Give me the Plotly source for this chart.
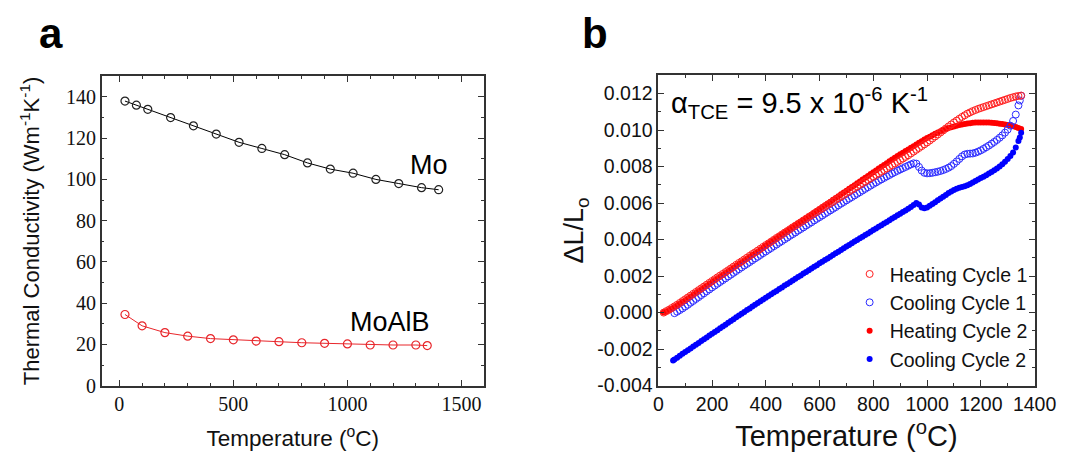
import plotly.graph_objects as go

# ---- panel a: thermal conductivity ----
mo_temp = [25, 75, 125, 225, 325, 425, 525, 625, 725, 825, 925, 1025, 1125, 1225, 1325, 1400]
mo_k = [138, 136, 134, 130, 126, 122, 118, 115, 112, 108, 105, 103, 100, 98, 96, 95]

moalb_temp = [25, 100, 200, 300, 400, 500, 600, 700, 800, 900, 1000, 1100, 1200, 1300, 1350]
moalb_k = [34.5, 29.0, 25.7, 24.0, 22.8, 22.2, 21.6, 21.3, 20.8, 20.5, 20.2, 19.7, 19.7, 19.7, 19.4]

# ---- panel b: dilatometry dL/Lo ----
h1_temp = [20, 30, 40, 50, 60, 70, 80, 90, 100, 110, 120, 130, 140, 150, 160, 170, 180, 190, 200,
           210, 220, 230, 240, 250, 260, 270, 280, 290, 300, 310, 320, 330, 340, 350, 360, 370, 380,
           390, 400, 410, 420, 430, 440, 450, 460, 470, 480, 490, 500, 510, 520, 530, 540, 550, 560,
           570, 580, 590, 600, 610, 620, 630, 640, 650, 660, 670, 680, 690, 700, 710, 720, 730, 740,
           750, 760, 770, 780, 790, 800, 810, 820, 830, 840, 850, 860, 870, 880, 890, 900, 910, 920,
           930, 940, 950, 960, 970, 980, 990, 1000, 1010, 1020, 1030, 1040, 1050, 1060, 1070, 1080,
           1090, 1100, 1110, 1120, 1130, 1140, 1150, 1160, 1170, 1180, 1190, 1200, 1210, 1220, 1230,
           1240, 1250, 1260, 1270, 1280, 1290, 1300, 1310, 1320, 1330, 1340, 1350]
h1_dl = [0.00000, 0.00008, 0.00016, 0.00025, 0.00034, 0.00043, 0.00053, 0.00063, 0.00073, 0.00083,
         0.00093, 0.00103, 0.00113, 0.00123, 0.00133, 0.00143, 0.00153, 0.00163, 0.00173, 0.00183,
         0.00193, 0.00203, 0.00212, 0.00222, 0.00232, 0.00242, 0.00252, 0.00262, 0.00272, 0.00281,
         0.00291, 0.00301, 0.00311, 0.00321, 0.00330, 0.00340, 0.00350, 0.00360, 0.00370, 0.00379,
         0.00389, 0.00399, 0.00409, 0.00418, 0.00428, 0.00438, 0.00447, 0.00457, 0.00467, 0.00476,
         0.00486, 0.00495, 0.00505, 0.00514, 0.00524, 0.00533, 0.00543, 0.00552, 0.00562, 0.00571,
         0.00580, 0.00590, 0.00599, 0.00608, 0.00618, 0.00627, 0.00636, 0.00645, 0.00655, 0.00664,
         0.00673, 0.00682, 0.00691, 0.00700, 0.00709, 0.00718, 0.00727, 0.00736, 0.00745, 0.00754,
         0.00763, 0.00772, 0.00781, 0.00790, 0.00799, 0.00808, 0.00817, 0.00826, 0.00835, 0.00844,
         0.00853, 0.00862, 0.00872, 0.00882, 0.00892, 0.00902, 0.00912, 0.00922, 0.00932, 0.00943,
         0.00954, 0.00965, 0.00976, 0.00987, 0.00998, 0.01009, 0.01020, 0.01031, 0.01042, 0.01052,
         0.01062, 0.01072, 0.01081, 0.01090, 0.01097, 0.01104, 0.01110, 0.01116, 0.01121, 0.01126,
         0.01131, 0.01136, 0.01141, 0.01146, 0.01151, 0.01156, 0.01161, 0.01166, 0.01171, 0.01176,
         0.01180, 0.01184, 0.01187, 0.01189]

c1_temp = [60, 70, 80, 90, 100, 110, 120, 130, 140, 150, 160, 170, 180, 190, 200, 210, 220, 230, 240,
           250, 260, 270, 280, 290, 300, 310, 320, 330, 340, 350, 360, 370, 380, 390, 400, 410, 420,
           430, 440, 450, 460, 470, 480, 490, 500, 510, 520, 530, 540, 550, 560, 570, 580, 590, 600,
           610, 620, 630, 640, 650, 660, 670, 680, 690, 700, 710, 720, 730, 740, 750, 760, 770, 780,
           790, 800, 810, 820, 830, 840, 850, 860, 870, 880, 890, 900, 910, 920, 930, 940, 950, 960,
           970, 980, 990, 1000, 1010, 1020, 1030, 1040, 1050, 1060, 1070, 1080, 1090, 1100, 1110, 1120,
           1130, 1140, 1150, 1160, 1170, 1180, 1190, 1200, 1210, 1220, 1230, 1240, 1250, 1260, 1270,
           1280, 1290, 1300, 1310, 1320, 1330, 1340, 1345, 1350]
c1_dl = [-0.00003, 0.00005, 0.00014, 0.00023, 0.00033, 0.00043, 0.00054, 0.00064, 0.00075, 0.00085,
         0.00096, 0.00106, 0.00117, 0.00127, 0.00138, 0.00148, 0.00158, 0.00168, 0.00178, 0.00188,
         0.00198, 0.00208, 0.00218, 0.00228, 0.00238, 0.00248, 0.00258, 0.00267, 0.00277, 0.00287,
         0.00297, 0.00306, 0.00316, 0.00326, 0.00335, 0.00345, 0.00354, 0.00364, 0.00373, 0.00383,
         0.00392, 0.00402, 0.00411, 0.00421, 0.00430, 0.00439, 0.00449, 0.00458, 0.00467, 0.00477,
         0.00486, 0.00495, 0.00505, 0.00514, 0.00523, 0.00532, 0.00542, 0.00551, 0.00560, 0.00569,
         0.00578, 0.00588, 0.00597, 0.00606, 0.00615, 0.00624, 0.00633, 0.00642, 0.00651, 0.00660,
         0.00669, 0.00678, 0.00687, 0.00696, 0.00705, 0.00713, 0.00722, 0.00730, 0.00738, 0.00746,
         0.00754, 0.00762, 0.00770, 0.00777, 0.00784, 0.00791, 0.00798, 0.00805, 0.00812, 0.00818,
         0.00816, 0.00798, 0.00778, 0.00766, 0.00763, 0.00764, 0.00766, 0.00769, 0.00772, 0.00776,
         0.00781, 0.00787, 0.00794, 0.00803, 0.00815, 0.00828, 0.00842, 0.00856, 0.00866, 0.00870,
         0.00871, 0.00872, 0.00876, 0.00882, 0.00889, 0.00897, 0.00906, 0.00915, 0.00925, 0.00935,
         0.00946, 0.00958, 0.00971, 0.00986, 0.01003, 0.01024, 0.01050, 0.01085, 0.01135, 0.01162,
         0.01188]

h2_temp = h1_temp
h2_dl = [0.00000, 0.00006, 0.00013, 0.00021, 0.00030, 0.00039, 0.00048, 0.00058, 0.00067, 0.00077,
         0.00087, 0.00097, 0.00107, 0.00117, 0.00127, 0.00137, 0.00147, 0.00157, 0.00167, 0.00177,
         0.00187, 0.00197, 0.00206, 0.00216, 0.00226, 0.00236, 0.00246, 0.00256, 0.00266, 0.00275,
         0.00285, 0.00295, 0.00305, 0.00315, 0.00324, 0.00334, 0.00344, 0.00354, 0.00368, 0.00378,
         0.00388, 0.00398, 0.00408, 0.00418, 0.00428, 0.00438, 0.00448, 0.00458, 0.00468, 0.00478,
         0.00488, 0.00498, 0.00508, 0.00518, 0.00528, 0.00538, 0.00548, 0.00558, 0.00568, 0.00578,
         0.00588, 0.00598, 0.00608, 0.00618, 0.00628, 0.00638, 0.00648, 0.00658, 0.00668, 0.00678,
         0.00688, 0.00698, 0.00709, 0.00719, 0.00729, 0.00739, 0.00749, 0.00759, 0.00769, 0.00779,
         0.00789, 0.00799, 0.00809, 0.00819, 0.00829, 0.00839, 0.00849, 0.00858, 0.00867, 0.00876,
         0.00885, 0.00894, 0.00903, 0.00912, 0.00921, 0.00930, 0.00939, 0.00948, 0.00956, 0.00964,
         0.00972, 0.00980, 0.00987, 0.00994, 0.01000, 0.01006, 0.01011, 0.01016, 0.01020, 0.01024,
         0.01028, 0.01031, 0.01034, 0.01036, 0.01038, 0.01040, 0.01041, 0.01042, 0.01042, 0.01042,
         0.01042, 0.01041, 0.01040, 0.01039, 0.01037, 0.01035, 0.01033, 0.01031, 0.01028, 0.01025,
         0.01021, 0.01017, 0.01012, 0.01006]

c2_temp = [55, 60, 70, 80, 90, 100, 110, 120, 130, 140, 150, 160, 170, 180, 190, 200, 210, 220, 230,
           240, 250, 260, 270, 280, 290, 300, 310, 320, 330, 340, 350, 360, 370, 380, 390, 400, 410,
           420, 430, 440, 450, 460, 470, 480, 490, 500, 510, 520, 530, 540, 550, 560, 570, 580, 590,
           600, 610, 620, 630, 640, 650, 660, 670, 680, 690, 700, 710, 720, 730, 740, 750, 760, 770,
           780, 790, 800, 810, 820, 830, 840, 850, 860, 870, 880, 890, 900, 910, 920, 930, 940, 950,
           960, 970, 980, 990, 1000, 1010, 1020, 1030, 1040, 1050, 1060, 1070, 1080, 1090, 1100, 1110,
           1120, 1130, 1140, 1150, 1160, 1170, 1180, 1190, 1200, 1210, 1220, 1230, 1240, 1250, 1260,
           1270, 1280, 1290, 1300, 1310, 1320, 1330, 1340, 1345, 1350]
c2_dl = [-0.00262, -0.00257, -0.00247, -0.00237, -0.00226, -0.00216, -0.00206, -0.00196, -0.00186,
         -0.00176, -0.00166, -0.00156, -0.00146, -0.00136, -0.00126, -0.00116, -0.00106, -0.00096,
         -0.00086, -0.00076, -0.00066, -0.00056, -0.00046, -0.00036, -0.00026, -0.00016, -0.00006,
         0.00004, 0.00014, 0.00023, 0.00033, 0.00043, 0.00052, 0.00062, 0.00072, 0.00081, 0.00091,
         0.00100, 0.00110, 0.00119, 0.00129, 0.00138, 0.00148, 0.00157, 0.00167, 0.00176, 0.00185,
         0.00195, 0.00204, 0.00214, 0.00223, 0.00232, 0.00242, 0.00251, 0.00260, 0.00270, 0.00279,
         0.00288, 0.00297, 0.00306, 0.00316, 0.00325, 0.00334, 0.00343, 0.00352, 0.00362, 0.00371,
         0.00380, 0.00389, 0.00398, 0.00407, 0.00416, 0.00425, 0.00434, 0.00443, 0.00452, 0.00461,
         0.00470, 0.00479, 0.00488, 0.00497, 0.00506, 0.00515, 0.00524, 0.00533, 0.00542, 0.00551,
         0.00560, 0.00569, 0.00578, 0.00590, 0.00600, 0.00592, 0.00576, 0.00572, 0.00576, 0.00585,
         0.00595, 0.00605, 0.00615, 0.00625, 0.00635, 0.00645, 0.00655, 0.00664, 0.00672, 0.00679,
         0.00684, 0.00688, 0.00692, 0.00698, 0.00705, 0.00713, 0.00721, 0.00729, 0.00737, 0.00745,
         0.00753, 0.00762, 0.00771, 0.00780, 0.00790, 0.00801, 0.00813, 0.00826, 0.00841, 0.00858,
         0.00877, 0.00905, 0.00940, 0.00960, 0.00985]

a_xticks = [0, 500, 1000, 1500]
a_yticks = [0, 20, 40, 60, 80, 100, 120, 140]
b_xticks = [0, 200, 400, 600, 800, 1000, 1200, 1400]
b_yticks = [-0.004, -0.002, 0.000, 0.002, 0.004, 0.006, 0.008, 0.010, 0.012]
b_yticktext = ["-0.004", "-0.002", "0.000", "0.002", "0.004", "0.006", "0.008", "0.010", "0.012"]

W, H = 1071, 454
SANS = "Liberation Sans, Arial, sans-serif"
SERIF = "Liberation Serif, DejaVu Serif, serif"

fig = go.Figure()

fig.add_trace(go.Scatter(
    x=mo_temp, y=mo_k, mode="lines+markers", xaxis="x", yaxis="y", showlegend=False,
    line=dict(color="black", width=1),
    marker=dict(symbol="circle-open", size=8, color="#222", line=dict(width=1.2)),
))
fig.add_trace(go.Scatter(
    x=moalb_temp, y=moalb_k, mode="lines+markers", xaxis="x", yaxis="y", showlegend=False,
    line=dict(color="#e8262b", width=1),
    marker=dict(symbol="circle-open", size=8, color="#e8262b", line=dict(width=1.2)),
))

fig.add_trace(go.Scatter(
    x=h2_temp, y=h2_dl, mode="markers", xaxis="x2", yaxis="y2", name="Heating Cycle 2",
    marker=dict(symbol="circle", size=6, color="#ff0000"), legendrank=3,
))
fig.add_trace(go.Scatter(
    x=c2_temp, y=c2_dl, mode="markers", xaxis="x2", yaxis="y2", name="Cooling Cycle 2",
    marker=dict(symbol="circle", size=6, color="#0000ff"), legendrank=4,
))
fig.add_trace(go.Scatter(
    x=c1_temp, y=c1_dl, mode="markers", xaxis="x2", yaxis="y2", name="Cooling Cycle 1",
    marker=dict(symbol="circle-open", size=7, color="#2b2bff", line=dict(width=1)), legendrank=2,
))
fig.add_trace(go.Scatter(
    x=h1_temp, y=h1_dl, mode="markers", xaxis="x2", yaxis="y2", name="Heating Cycle 1",
    marker=dict(symbol="circle-open", size=7, color="#ff2020", line=dict(width=1)), legendrank=1,
))

axis_common = dict(
    showline=True, linecolor="#333", linewidth=1.5, mirror="ticks",
    ticks="inside", ticklen=6, tickwidth=1.2, tickcolor="#333",
    showgrid=False, zeroline=False,
    minor=dict(ticks="inside", ticklen=3, tickwidth=1, tickcolor="#333"),
)

ya = 1 - 387 / H
yb = 1 - 70 / H

fig.update_layout(
    width=W, height=H,
    margin=dict(l=0, r=0, t=0, b=0),
    paper_bgcolor="white", plot_bgcolor="white",
    xaxis=dict(axis_common, domain=[91 / W, 483 / W], range=[-77, 1598], anchor="y",
               tickvals=a_xticks, minor_dtick=100,
               tickfont=dict(family=SERIF, size=20, color="#111"),
               title=dict(text="Temperature (<sup>o</sup>C)", standoff=16,
                          font=dict(family=SANS, size=22.5, color="#111"))),
    yaxis=dict(axis_common, domain=[ya, yb], range=[0, 150], anchor="x",
               tickvals=a_yticks, minor_dtick=10,
               tickfont=dict(family=SERIF, size=20, color="#111"),
               title=dict(text="Thermal Conductivity (Wm<sup>-1</sup>K<sup>-1</sup>)", standoff=20,
                          font=dict(family=SANS, size=22, color="#111"))),
    xaxis2=dict(axis_common, domain=[662 / W, 1048 / W], range=[0, 1400], anchor="y2",
                tickvals=b_xticks, minor_dtick=100,
                tickfont=dict(family=SANS, size=19.5, color="#111"),
                title=dict(text="Temperature (<sup>o</sup>C)", standoff=12,
                           font=dict(family=SANS, size=29, color="#111"))),
    yaxis2=dict(axis_common, domain=[ya, 1 - 69 / H], range=[-0.004, 0.013], anchor="x2",
                tickvals=b_yticks, ticktext=b_yticktext, minor_dtick=0.001,
                tickfont=dict(family=SANS, size=19.5, color="#111"),
                title=dict(text="ΔL/L<sub>o</sub>", standoff=6,
                           font=dict(family=SANS, size=27, color="#111"))),
    legend=dict(x=1046 / W, xanchor="right", y=1 - 380 / H, yanchor="bottom",
                bgcolor="rgba(0,0,0,0)", font=dict(family=SANS, size=19.5, color="#111"),
                itemwidth=30, tracegroupgap=0),
    annotations=[
        dict(text="<b>a</b>", x=39 / W, y=1.0, xref="paper", yref="paper",
             xanchor="center", yanchor="top",
             showarrow=False, font=dict(family=SANS, size=42, color="black")),
        dict(text="<b>b</b>", x=597 / W, y=1.0, xref="paper", yref="paper",
             xanchor="center", yanchor="top",
             showarrow=False, font=dict(family=SANS, size=42, color="black")),
        dict(text="Mo", x=1359, y=107, xref="x", yref="y",
             xanchor="center", yanchor="middle",
             showarrow=False, font=dict(family=SANS, size=27, color="black")),
        dict(text="MoAlB", x=1188, y=30.7, xref="x", yref="y",
             xanchor="center", yanchor="middle",
             showarrow=False, font=dict(family=SANS, size=27, color="black")),
        dict(text="α<sub>TCE</sub> = 9.5 x 10<sup>-6</sup> K<sup>-1</sup>",
             x=673 / W, y=1 - 97 / H, xref="paper", yref="paper",
             xanchor="left", yanchor="middle",
             showarrow=False, font=dict(family=SANS, size=29, color="black")),
    ],
)

fig.write_html("out.html")
